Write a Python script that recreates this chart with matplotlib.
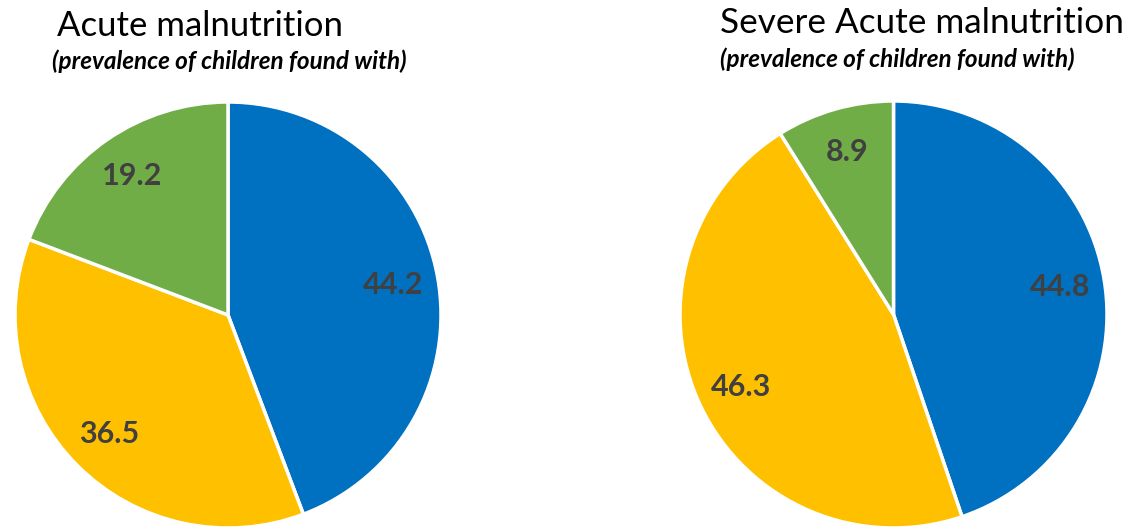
import matplotlib
matplotlib.use("Agg")
import matplotlib.pyplot as plt

categories = ["Category A", "Category B", "Category C"]
acute_values = [44.2, 36.5, 19.2]
severe_values = [44.8, 46.3, 8.9]
acute_labels = ["44.2", "36.5", "19.2"]
severe_labels = ["44.8", "46.3", "8.9"]
colors = ["#0070C0", "#FFC000", "#70AD47"]

W, H = 1140, 532
fig = plt.figure(figsize=(W / 100, H / 100), dpi=100)
fig.patch.set_facecolor("white")

def px_axes(x0, y0, x1, y1):
    return fig.add_axes([x0 / W, 1 - y1 / H, (x1 - x0) / W, (y1 - y0) / H])

def draw_pie(ax, values, labels):
    wedges, texts = ax.pie(values, labels=labels, colors=colors, startangle=90,
                           counterclock=False, labeldistance=0.79,
                           wedgeprops=dict(edgecolor="white", linewidth=2.5),
                           textprops=dict(fontsize=22, fontweight="bold",
                                          color="#404040", family="Lato"))
    for t in texts:
        t.set_ha("center")
        t.set_va("center")
    ax.set_xlim(-1, 1)
    ax.set_ylim(-1, 1)
    ax.set_aspect("equal")
    ax.axis("off")

ax1 = px_axes(15, 102, 441, 528)
draw_pie(ax1, acute_values, acute_labels)
ax2 = px_axes(680, 101, 1107, 528)
draw_pie(ax2, severe_values, severe_labels)

fig.text(57 / W, 1 - 26 / H, "Acute malnutrition", fontsize=25, family="Lato",
         color="black", ha="left", va="center")
fig.text(52 / W, 1 - 61 / H, "(prevalence of children found with)", fontsize=17.5,
         family="Lato", fontweight="bold", fontstyle="italic", color="black",
         ha="left", va="center")
fig.text(720 / W, 1 - 23 / H, "Severe Acute malnutrition", fontsize=25.3, family="Lato",
         color="black", ha="left", va="center")
fig.text(720 / W, 1 - 59 / H, "(prevalence of children found with)", fontsize=17.5,
         family="Lato", fontweight="bold", fontstyle="italic", color="black",
         ha="left", va="center")

fig.savefig("out.png", dpi=100, facecolor="white")
